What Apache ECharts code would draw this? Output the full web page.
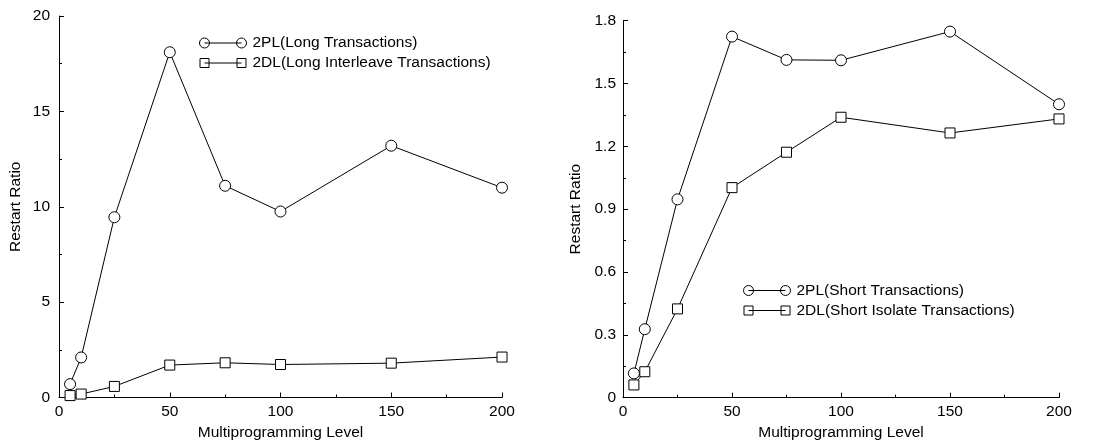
<!DOCTYPE html>
<html>
<head>
<meta charset="utf-8">
<script src="https://cdn.jsdelivr.net/npm/echarts@6/dist/echarts.min.js"></script>
<style>
html,body{margin:0;padding:0;background:#fff;}
#c{width:1094px;height:447px;}
</style>
</head>
<body>
<div id="c"></div>
<script>
const levels = [5, 10, 25, 50, 75, 100, 150, 200];
const long2PL = [0.7, 2.1, 9.45, 18.1, 11.1, 9.75, 13.2, 11.0];
const long2DL = [0.1, 0.18, 0.58, 1.7, 1.82, 1.73, 1.8, 2.12];
const short2PL = [0.116, 0.327, 0.947, 1.724, 1.613, 1.611, 1.748, 1.401];
const short2DL = [0.061, 0.124, 0.424, 1.003, 1.172, 1.339, 1.264, 1.331];
const names = ['2PL(Long Transactions)', '2DL(Long Interleave Transactions)',
               '2PL(Short Transactions)', '2DL(Short Isolate Transactions)'];
const xName = 'Multiprogramming Level';
const yName = 'Restart Ratio';

const FONT = 'Liberation Sans';
const FS = 15.5;
function circ(cx) {
  const k = 2.761;
  return 'M' + (cx - 5) + ',5 C' + (cx - 5) + ',' + (5 - k) + ' ' + (cx - k) + ',0 ' + cx + ',0 ' +
         'C' + (cx + k) + ',0 ' + (cx + 5) + ',' + (5 - k) + ' ' + (cx + 5) + ',5 ' +
         'C' + (cx + 5) + ',' + (5 + k) + ' ' + (cx + k) + ',10 ' + cx + ',10 ' +
         'C' + (cx - k) + ',10 ' + (cx - 5) + ',' + (5 + k) + ' ' + (cx - 5) + ',5 Z ';
}
const circleIcon = 'path://' + circ(5) + 'M5,5 L42,5 ' + circ(42);
const rectIcon = 'path://M0.5,0.5 L9.5,0.5 L9.5,9.5 L0.5,9.5 Z M5,5 L42,5 M37.5,0.5 L46.5,0.5 L46.5,9.5 L37.5,9.5 Z M0,0 M47,10';

function pairs(vals) { return levels.map((x, i) => [x, vals[i]]); }

function xAxis(gi) {
  return {
    type: 'value', gridIndex: gi, min: 0, max: 200, interval: 50,
    name: xName, nameLocation: 'middle', nameGap: 27,
    nameTextStyle: {color: '#000', fontFamily: FONT, fontSize: FS},
    axisLine: {show: true, lineStyle: {color: '#000', width: 1}},
    axisTick: {show: true, inside: true, length: 5, lineStyle: {color: '#000'}},
    minorTick: {show: true, splitNumber: 2, length: 3, lineStyle: {color: '#000'}},
    axisLabel: {color: '#000', fontFamily: FONT, fontSize: FS, margin: 6},
    splitLine: {show: false}
  };
}
function yAxis(gi, max, interval, gap, lm, fmt) {
  return {
    type: 'value', gridIndex: gi, min: 0, max: max, interval: interval,
    name: yName, nameLocation: 'middle', nameGap: gap,
    nameTextStyle: {color: '#000', fontFamily: FONT, fontSize: FS},
    axisLine: {show: true, lineStyle: {color: '#000', width: 1}},
    axisTick: {show: true, inside: true, length: 5, lineStyle: {color: '#000'}},
    minorTick: {show: true, splitNumber: 2, length: 3, lineStyle: {color: '#000'}},
    axisLabel: {color: '#000', fontFamily: FONT, fontSize: FS, margin: lm, formatter: fmt},
    splitLine: {show: false}
  };
}
function series(name, vals, gi, sym, size) {
  return {
    name: name, type: 'line', xAxisIndex: gi, yAxisIndex: gi,
    data: pairs(vals), symbol: sym, symbolSize: size,
    lineStyle: {color: '#000', width: 1},
    itemStyle: {color: '#fff', borderColor: '#000', borderWidth: 1},
    emphasis: {disabled: true},
    animation: false
  };
}
const legendItemStyle = {color: 'rgba(0,0,0,0)', borderColor: '#000', borderWidth: 1};
function legend(left, top, n1, n2) {
  return {
    orient: 'vertical', left: left, top: top, padding: 0, itemGap: 4,
    itemWidth: 47, itemHeight: 10, selectedMode: false,
    textStyle: {color: '#000', fontFamily: FONT, fontSize: FS, padding: [0, 0, 0, 1]},
    data: [
      {name: n1, icon: circleIcon, itemStyle: legendItemStyle},
      {name: n2, icon: rectIcon, itemStyle: legendItemStyle}
    ]
  };
}

const chart = echarts.init(document.getElementById('c'), null, {renderer: 'canvas'});
chart.setOption({
  backgroundColor: '#fff',
  animation: false,
  grid: [
    {left: 59, top: 16, width: 443, height: 381.5},
    {left: 623, top: 20.7, width: 436, height: 377}
  ],
  legend: [
    legend(199, 35, names[0], names[1]),
    legend(743, 282.5, names[2], names[3])
  ],
  xAxis: [xAxis(0), xAxis(1)],
  yAxis: [
    yAxis(0, 20, 5, 35, 9, v => String(v)),
    yAxis(1, 1.8, 0.3, 39, 7, v => v === 0 ? '0' : v.toFixed(1))
  ],
  series: [
    series(names[0], long2PL, 0, 'circle', 11),
    series(names[1], long2DL, 0, 'rect', 10),
    series(names[2], short2PL, 1, 'circle', 11),
    series(names[3], short2DL, 1, 'rect', 10)
  ]
});
</script>
</body>
</html>
